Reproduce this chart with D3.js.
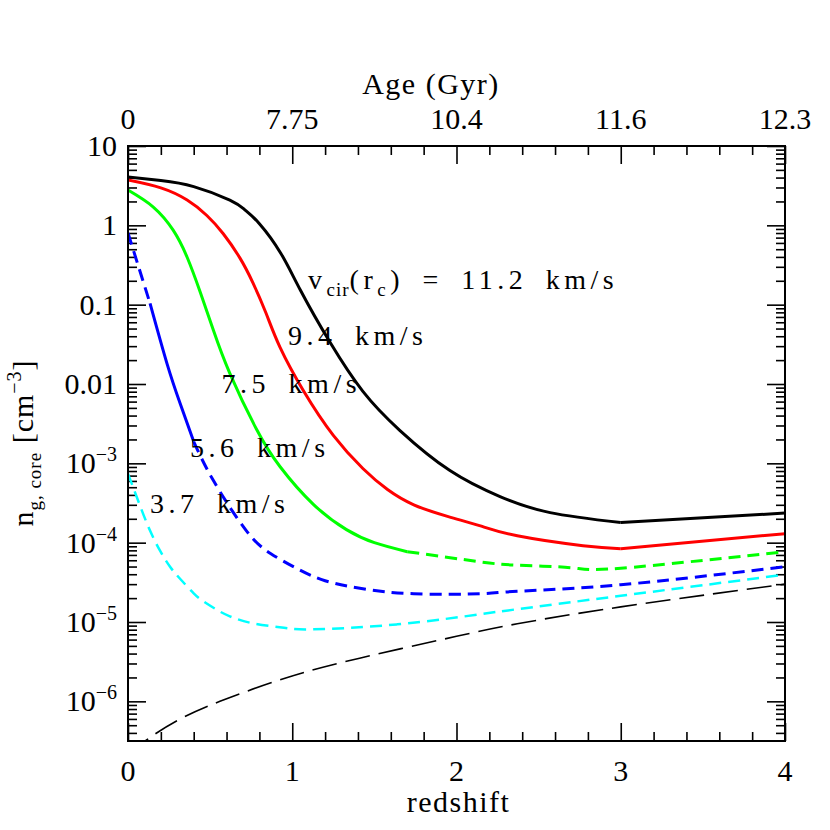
<!DOCTYPE html>
<html>
<head>
<meta charset="utf-8">
<script src="https://cdn.jsdelivr.net/npm/d3@7"></script>
<style>
    body { margin: 0; background: #fff; }
    svg text { font-family: "Liberation Serif", "DejaVu Serif", serif; fill: #000; }
</style>
</head>
<body>
<svg id="chart" width="830" height="830"></svg>
<script>
// Axis ticks and labels
const zTicks = [0, 1, 2, 3, 4];
const ageLabels = ['0', '7.75', '10.4', '11.6', '12.3'];
const yDecades = [1, 0, -1, -2, -3, -4, -5, -6];
const yTickBase = ['10', '1', '0.1', '0.01', '10', '10', '10', '10'];
const yTickExp = ['', '', '', '', '\u22123', '\u22124', '\u22125', '\u22126'];

// Curves: [redshift, n_g,core (cm^-3)]
const vcir112 = [[0, 4.06], [0.2, 3.67], [0.4, 3.08], [0.62, 2.08], [0.71, 1.58], [0.80, 1.05],
    [0.93, 0.446], [1.05, 0.152], [1.23, 0.0335], [1.43, 8.07e-3], [1.656, 2.59e-3], [1.96, 8.1e-4],
    [2.265, 3.81e-4], [2.57, 2.39e-4], [3.0, 1.79e-4], [4.0, 2.36e-4]];
const vcir94 = [[0, 3.72], [0.2, 2.96], [0.36, 2.08], [0.48, 1.33], [0.58, 0.783], [0.68, 0.392],
    [0.76, 0.190], [0.84, 0.0785], [0.925, 0.0292], [1.07, 8.1e-3], [1.25, 2.25e-3], [1.43, 8.6e-4],
    [1.58, 4.67e-4], [1.74, 3.0e-4], [1.95, 2.13e-4], [2.14, 1.64e-4], [2.37, 1.22e-4], [2.77, 9.16e-5],
    [3.0, 8.4e-5], [4.0, 1.3e-4]];
const vcir75 = [[0, 2.78], [0.154, 1.70], [0.275, 0.869], [0.36, 0.396], [0.44, 0.1435], [0.52, 0.0475],
    [0.62, 0.0136], [0.78, 2.75e-3], [0.925, 9.12e-4], [1.13, 3.02e-4], [1.33, 1.46e-4], [1.5, 1.0e-4],
    [1.70, 7.7e-5], [2.14, 5.75e-5], [2.37, 5.2e-5], [2.7, 4.83e-5], [3.0, 4.76e-5], [4.0, 7.7e-5]];
const vcir56 = [[0, 0.80], [0.134, 0.104], [0.237, 0.0182], [0.317, 5.7e-3], [0.40, 1.88e-3],
    [0.52, 6.06e-4], [0.72, 1.42e-4], [0.87, 7.26e-5], [1.03, 4.7e-5], [1.2, 3.31e-5], [1.43, 2.62e-5],
    [1.74, 2.27e-5], [2.14, 2.27e-5], [2.37, 2.44e-5], [3.0, 2.95e-5], [4.0, 4.98e-5]];
const vcir37 = [[0, 7.43e-4], [0.073, 2.93e-4], [0.134, 1.42e-4], [0.195, 7.93e-5], [0.256, 4.98e-5],
    [0.317, 3.51e-5], [0.40, 2.30e-5], [0.46, 1.82e-5], [0.54, 1.43e-5], [0.62, 1.18e-5], [0.76, 9.62e-6],
    [0.95, 8.45e-6], [1.13, 8.09e-6], [1.64, 9.35e-6], [2.14, 1.25e-5], [2.37, 1.45e-5], [3.0, 2.14e-5],
    [4.0, 3.95e-5]];
const background = [[0, 2.2e-7], [0.134, 3.5e-7], [0.3, 5.73e-7], [0.56, 1.0e-6], [0.97, 2.0e-6],
    [1.41, 3.5e-6], [2.0, 6.6e-6], [2.37, 9.5e-6], [3.0, 1.55e-5], [4.0, 3.0e-5]];

// Labels anchored at [redshift, n]
const curveLabels = [
    { at: [1.096, 0.156], main: true, text: '11.2 km/s' },
    { at: [0.974, 0.0307], text: '9.4 km/s' },
    { at: [0.570, 7.6e-3], text: '7.5 km/s' },
    { at: [0.378, 1.2e-3], text: '5.6 km/s' },
    { at: [0.134, 2.4e-4], text: '3.7 km/s' }
];

(function () {
    'use strict';

    const DASH_SHORT = '12,7';
    const DASH_LONG = '25,9';

    // pieces: [zStart, zEnd, dash]
    const series = [
        { data: vcir112, color: '#000', width: 3, pieces: [[0, 3, null], [3, 4, null]] },
        { data: vcir94, color: '#ff0000', width: 3, pieces: [[0, 3, null], [3, 4, null]] },
        { data: vcir75, color: '#00ff00', width: 3, pieces: [[0, 1.70, null], [1.70, 4, DASH_SHORT]] },
        { data: vcir56, color: '#0000ff', width: 3, pieces: [[0, 0.134, DASH_SHORT], [0.134, 0.40, null], [0.40, 4, DASH_SHORT]] },
        { data: vcir37, color: '#00ffff', width: 2.5, pieces: [[0, 4, DASH_SHORT]] },
        { data: background, color: '#000', width: 1.6, pieces: [[0, 4, DASH_LONG]] }
    ];

    const svg = d3.select('#chart');
    const left = 128, right = 785, top = 146, bottom = 741;

    const x = d3.scaleLinear().domain([0, 4]).range([left, right]);
    const y = d3.scaleLog().domain([Math.pow(10, -6.5), 10]).range([bottom, top]);

    // minor ticks
    const zMinor = d3.range(0, 4.001, 0.2).map(v => +v.toFixed(1)).filter(v => !zTicks.includes(v));
    const yMinor = [];
    yDecades.forEach(d => {
        for (let k = 2; k <= 9; k++) {
            const v = k * Math.pow(10, d - 1);
            if (v >= y.domain()[0] && v <= y.domain()[1]) yMinor.push(v);
        }
    });
    const yMajor = yDecades.map(d => Math.pow(10, d));

    function addAxis(axis, transform) {
        const g = svg.append('g').attr('transform', transform).call(axis);
        g.select('.domain').remove();
        g.selectAll('text').remove();
        g.selectAll('line').attr('stroke', '#000').attr('stroke-width', 1.6);
        return g;
    }

    addAxis(d3.axisBottom(x).tickValues(zTicks).tickSize(-18).tickSizeOuter(0), `translate(0,${bottom})`);
    addAxis(d3.axisBottom(x).tickValues(zMinor).tickSize(-9).tickSizeOuter(0), `translate(0,${bottom})`);
    addAxis(d3.axisTop(x).tickValues(zTicks).tickSize(-18).tickSizeOuter(0), `translate(0,${top})`);
    addAxis(d3.axisTop(x).tickValues(zMinor).tickSize(-9).tickSizeOuter(0), `translate(0,${top})`);
    addAxis(d3.axisLeft(y).tickValues(yMajor).tickSize(-18).tickSizeOuter(0), `translate(${left},0)`);
    addAxis(d3.axisLeft(y).tickValues(yMinor).tickSize(-9).tickSizeOuter(0), `translate(${left},0)`);
    addAxis(d3.axisRight(y).tickValues(yMajor).tickSize(-18).tickSizeOuter(0), `translate(${right},0)`);
    addAxis(d3.axisRight(y).tickValues(yMinor).tickSize(-9).tickSizeOuter(0), `translate(${right},0)`);

    // tick labels
    svg.append('g').selectAll('text').data(zTicks).enter().append('text')
        .attr('x', d => x(d)).attr('y', bottom + 40)
        .attr('text-anchor', 'middle').attr('font-size', 30)
        .text(d => d);

    svg.append('g').selectAll('text').data(zTicks).enter().append('text')
        .attr('x', d => x(d)).attr('y', top - 17)
        .attr('text-anchor', 'middle').attr('font-size', 30)
        .text((d, i) => ageLabels[i]);

    const yLab = svg.append('g').selectAll('text').data(yDecades).enter().append('text')
        .attr('x', left - 11).attr('y', d => y(Math.pow(10, d)) + 10)
        .attr('text-anchor', 'end').attr('font-size', 30);
    yLab.append('tspan').text((d, i) => yTickBase[i]);
    yLab.append('tspan').attr('dy', -12).attr('font-size', 20).text((d, i) => yTickExp[i]);

    // axis titles
    svg.append('text').attr('x', (left + right) / 2 + 2).attr('y', 812)
        .attr('text-anchor', 'middle').attr('font-size', 30).attr('letter-spacing', 1.5)
        .text('redshift');
    svg.append('text').attr('x', 431).attr('y', 94)
        .attr('text-anchor', 'middle').attr('font-size', 30).attr('letter-spacing', 1.5)
        .text('Age (Gyr)');

    const yt = svg.append('text')
        .attr('transform', 'translate(33,443) rotate(-90)')
        .attr('text-anchor', 'middle').attr('font-size', 30).attr('letter-spacing', 1);
    yt.append('tspan').text('n');
    yt.append('tspan').attr('dy', 8).attr('font-size', 19).text('g, core');
    yt.append('tspan').attr('dy', -8).text(' [cm');
    yt.append('tspan').attr('dy', -12).attr('font-size', 20).text('\u22123');
    yt.append('tspan').attr('dy', 12).text(']');

    // curves
    svg.append('clipPath').attr('id', 'plot-clip')
        .append('rect').attr('x', left).attr('y', top)
        .attr('width', right - left).attr('height', bottom - top);

    const line = d3.line()
        .x(d => x(d[0]))
        .y(d => y(d[1]))
        .curve(d3.curveNatural);

    const curves = svg.append('g').attr('clip-path', 'url(#plot-clip)');
    series.forEach(s => {
        s.pieces.forEach(([z0, z1, dash]) => {
            const pts = s.data.filter(p => p[0] >= z0 - 1e-9 && p[0] <= z1 + 1e-9);
            curves.append('path')
                .datum(pts)
                .attr('d', line)
                .attr('fill', 'none')
                .attr('stroke', s.color)
                .attr('stroke-width', s.width)
                .attr('stroke-dasharray', dash)
                .attr('stroke-linejoin', 'round');
        });
    });

    // curve labels
    curveLabels.forEach(l => {
        const t = svg.append('text')
            .attr('x', x(l.at[0])).attr('y', y(l.at[1]))
            .attr('font-size', 28).attr('letter-spacing', 4.5).attr('word-spacing', 7);
        if (l.main) {
            t.append('tspan').text('v');
            t.append('tspan').attr('dy', 7).attr('font-size', 19).attr('letter-spacing', 1).text('cir');
            t.append('tspan').attr('dy', -7).text('(r');
            t.append('tspan').attr('dy', 7).attr('font-size', 19).text('c');
            t.append('tspan').attr('dy', -7).text(') = ' + l.text);
        } else {
            t.text(l.text);
        }
    });

    // frame
    svg.append('rect')
        .attr('x', left).attr('y', top)
        .attr('width', right - left).attr('height', bottom - top)
        .attr('fill', 'none').attr('stroke', '#000').attr('stroke-width', 2);
})();
</script>
</body>
</html>
